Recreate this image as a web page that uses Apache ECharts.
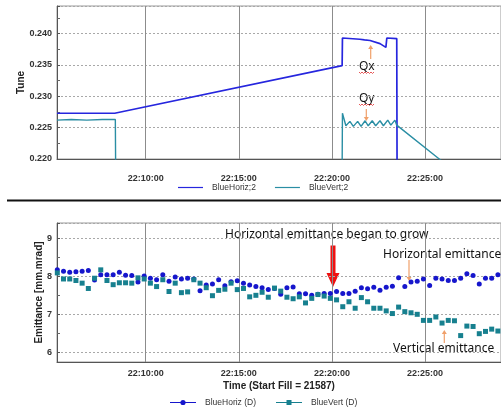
<!DOCTYPE html>
<html>
<head>
<meta charset="utf-8">
<title>Tune / Emittance</title>
<script src="https://cdn.jsdelivr.net/npm/echarts@6/dist/echarts.min.js"></script>
<style>
    html, body { margin: 0; padding: 0; background: #fff; }
    #demo { width: 501px; height: 407px; }
</style>
</head>
<body>
<div id="demo"></div>
<script>
/******************************************************* 数据区 ********************************************************/

// 上图 Tune：BlueHoriz;2
var horiz_tune_time  = ['22:05:14', '22:08:20', '22:20:33', '22:20:34', '22:21:30', '22:21:45', '22:22:03', '22:22:35', '22:22:54', '22:22:57', '22:23:29', '22:23:30'];
var horiz_tune_value = [0.2273, 0.2273, 0.2349, 0.2393, 0.2391, 0.2390, 0.2389, 0.2384, 0.2378, 0.2393, 0.2392, 0.2190];

// 上图 Tune：BlueVert;2
var vert_tune_time  = ['22:05:14', '22:06:00', '22:06:50', '22:07:40', '22:08:22', '22:08:23', '22:20:33',
                       '22:20:34', '22:20:45', '22:20:58', '22:21:09', '22:21:23', '22:21:34', '22:21:47', '22:21:57',
                       '22:22:10', '22:22:21', '22:22:35', '22:22:46', '22:23:00', '22:23:10', '22:23:23', '22:23:29',
                       '22:25:46', '22:25:56'];
var vert_tune_value = [0.2262, 0.2263, 0.2262, 0.2263, 0.2263, 0.2190, 0.2190,
                       0.2273, 0.2253, 0.2260, 0.2252, 0.2260, 0.2252, 0.2261, 0.2253,
                       0.2261, 0.2253, 0.2261, 0.2253, 0.2262, 0.2254, 0.2262, 0.2254,
                       0.2200, 0.2196];

// 下图 Emittance：采样时间
var emit_time = [
    '22:05:15', '22:05:35', '22:05:55', '22:06:15', '22:06:35', '22:06:55', '22:07:15', '22:07:35', '22:07:55',
    '22:08:15', '22:08:35', '22:08:55', '22:09:15', '22:09:35', '22:09:55', '22:10:15', '22:10:35', '22:10:55',
    '22:11:15', '22:11:35', '22:11:55', '22:12:15', '22:12:35', '22:12:55', '22:13:15', '22:13:35', '22:13:55',
    '22:14:15', '22:14:35', '22:14:55', '22:15:15', '22:15:35', '22:15:55', '22:16:15', '22:16:35', '22:16:55',
    '22:17:15', '22:17:35', '22:17:55', '22:18:15', '22:18:35', '22:18:55', '22:19:15', '22:19:35', '22:19:55',
    '22:20:15', '22:20:35', '22:20:55', '22:21:15', '22:21:35', '22:21:55', '22:22:15', '22:22:35', '22:22:55',
    '22:23:15', '22:23:35', '22:23:55', '22:24:15', '22:24:35', '22:24:55', '22:25:15', '22:25:35', '22:25:55',
    '22:26:15', '22:26:35', '22:26:55', '22:27:15', '22:27:35', '22:27:55', '22:28:15', '22:28:35', '22:28:55'
];
// BlueHoriz (D)
var emit_horiz = [
    8.17, 8.13, 8.11, 8.12, 8.13, 8.15, 7.90, 8.04, 8.04,
    8.04, 8.11, 8.03, 8.02, 7.85, 8.01, 7.95, 7.91, 8.04,
    7.87, 7.98, 7.93, 7.95, 7.93, 7.62, 7.77, 7.80, 7.91,
    7.75, 7.86, 7.88, 7.82, 7.77, 7.73, 7.70, 7.65, 7.68,
    7.53, 7.70, 7.72, 7.54, 7.54, 7.50, 7.53, 7.55, 7.55,
    7.60, 7.55, 7.55, 7.61, 7.70, 7.67, 7.71, 7.63, 7.71,
    7.74, 7.96, 7.73, 7.85, 7.87, 7.93, 7.76, 7.95, 7.93,
    7.89, 7.89, 7.95, 8.07, 8.02, 7.80, 7.95, 7.95, 8.04
];
// BlueVert (D)
var emit_vert = [
    8.09, 7.93, 7.93, 7.89, 7.82, 7.68, 7.95, 8.17, 7.89,
    7.78, 7.83, 7.83, 7.82, 7.96, 7.93, 7.82, 7.73, 7.91,
    7.60, 7.82, 7.57, 7.59, 7.91, 7.82, 7.70, 7.49, 7.63,
    7.66, 7.82, 7.65, 7.68, 7.46, 7.50, 7.58, 7.45, 7.69,
    7.61, 7.45, 7.41, 7.46, 7.30, 7.42, 7.52, 7.48, 7.42,
    7.38, 7.20, 7.33, 7.16, 7.44, 7.33, 7.16, 7.16, 7.09,
    7.02, 7.19, 7.07, 7.04, 7.00, 6.84, 6.84, 6.93, 6.77,
    6.84, 6.83, 6.44, 6.69, 6.68, 6.49, 6.55, 6.61, 6.56
];

// 坐标轴范围
var time_range  = ['22:05:14', '22:29:05'];
var tune_range  = [0.220, 0.2444];
var emit_range  = [5.745, 9.403];

/**
 * 初始化参数
 */
var basedata = {
    dom_id: 'demo',
    echarts_main: null
};

/**
 * 应用初始化加载
 */
var init_application = function () {
    basedata.echarts_main = new TuneEmittanceChart(basedata.dom_id);
    basedata.echarts_main.render_echart();
    window.onresize = function () {
        basedata.echarts_main.myChart.resize();
    };
};

/******************************************************* 函数区 ********************************************************/

// 'HH:MM:SS' -> 秒
function to_sec(str) {
    var p = str.split(':');
    return (+p[0]) * 3600 + (+p[1]) * 60 + (+p[2]);
}

// 秒 -> 'HH:MM:SS'
function fmt_time(v) {
    var h = Math.floor(v / 3600), m = Math.floor((v % 3600) / 60), s = Math.round(v % 60);
    var pad = function (n) { return (n < 10 ? '0' : '') + n; };
    return pad(h) + ':' + pad(m) + ':' + pad(s);
}

function zip_pairs(times, values) {
    return times.map(function (t, i) { return [to_sec(t), values[i]]; });
}

// 细箭头（竖直）
function thin_arrow(x, y_from, y_to, color) {
    var dir = y_to > y_from ? 1 : -1;
    return {
        type: 'group',
        children: [
            { type: 'line', shape: { x1: x, y1: y_from, x2: x, y2: y_to - dir * 3 }, style: { stroke: color, lineWidth: 1.2 } },
            { type: 'polygon', shape: { points: [[x - 2.5, y_to - dir * 4], [x + 2.5, y_to - dir * 4], [x, y_to]] }, style: { fill: color } }
        ]
    };
}

// 红色波浪线（拼写提示）
function squiggle(x1, x2, y) {
    var pts = [], k = 0;
    for (var x = x1; x <= x2; x += 1.5, k++) pts.push([x, y + (k % 2 ? 1 : -0.5)]);
    return { type: 'polyline', shape: { points: pts }, style: { stroke: '#e03030', lineWidth: 0.8, fill: null } };
}

function label_text(x, y, text, size) {
    return {
        type: 'text', x: x, y: y,
        style: { text: text, fill: '#111', font: size + 'px "Noto Sans"', textAlign: 'left', textVerticalAlign: 'middle' }
    };
}

// 图例图标：线 + 圆点 / 线 + 方块
var ICON_LINE   = 'path://M0,2 H25 V3.2 H0 Z';
var ICON_CIRCLE = 'path://M0,2.1 H26 V3.1 H0 Z M15.6,2.6 A2.6,2.6 0 1,1 10.4,2.6 A2.6,2.6 0 1,1 15.6,2.6 Z';
var ICON_SQUARE = 'path://M0,2 H26 V3 H0 Z M10.5,0 H15.5 V5 H10.5 Z';

/******************************************************* 组件区域 ******************************************************/

function TuneEmittanceChart(dom_id) {
    this.dom_id = dom_id;
    this.myChart = null;
    this.option = {};
    this.load_first = true;
}
TuneEmittanceChart.prototype = {
    constructor: TuneEmittanceChart,

    build_option: function () {
        var axis_font = 'Liberation Sans';
        var x_min = to_sec(time_range[0]), x_max = to_sec(time_range[1]);

        var x_axis = function (idx, margin) {
            return {
                type: 'value', gridIndex: idx, min: x_min, max: x_max,
                minInterval: 300, maxInterval: 300,
                axisLine: { lineStyle: { color: '#555' } },
                axisTick: { show: false },
                axisLabel: {
                    formatter: fmt_time, showMinLabel: false, showMaxLabel: false, margin: margin,
                    fontSize: 9, fontWeight: 'bold', color: '#333', fontFamily: axis_font
                },
                splitLine: { show: true, lineStyle: { color: '#8c8c8c', width: 1 } }
            };
        };
        var y_common = {
            nameLocation: 'middle',
            nameMoveOverlap: false,
            nameTextStyle: { fontSize: 10, fontWeight: 'bold', color: '#222', fontFamily: axis_font },
            axisLine: { show: true, lineStyle: { color: '#555' } },
            axisTick: { show: true, inside: true, length: 3, lineStyle: { color: '#555' } },
            minorTick: { show: true, splitNumber: 2, length: 3, lineStyle: { color: '#666' } },
            splitLine: { show: true, lineStyle: { color: '#a8a8a8', type: [2, 2] } }
        };

        var x0 = x_axis(0, 15);
        var x1 = x_axis(1, 7);
        x1.name = 'Time (Start Fill = 21587)';
        x1.nameLocation = 'middle';
        x1.nameGap = 19;
        x1.nameTextStyle = { fontSize: 10, fontWeight: 'bold', color: '#222', fontFamily: axis_font };

        var y0 = Object.assign({}, y_common, {
            type: 'value', gridIndex: 0, min: tune_range[0], max: tune_range[1], interval: 0.005,
            name: 'Tune', nameGap: 31,
            axisLabel: {
                formatter: function (v) { return v.toFixed(3); }, showMaxLabel: false, margin: 5,
                fontSize: 9, fontWeight: 'bold', color: '#333', fontFamily: axis_font
            }
        });
        var y1 = Object.assign({}, y_common, {
            type: 'value', gridIndex: 1, min: emit_range[0], max: emit_range[1],
            minInterval: 1, maxInterval: 1,
            name: 'Emittance [mm.mrad]', nameGap: 13,
            axisLabel: {
                showMinLabel: false, showMaxLabel: false, margin: 5,
                fontSize: 9, fontWeight: 'bold', color: '#333', fontFamily: axis_font
            }
        });

        var legend_text = { fontSize: 8.5, color: '#333', fontFamily: axis_font, padding: [0, 0, 0, 4] };

        this.option = {
            animation: false,
            backgroundColor: '#fff',
            grid: [
                { left: 57, top: 6, width: 445, height: 153, show: true, borderColor: '#9a9a9a', borderWidth: 1 },
                { left: 57, top: 223, width: 445, height: 139, show: true, borderColor: '#9a9a9a', borderWidth: 1 }
            ],
            xAxis: [x0, x1],
            yAxis: [y0, y1],
            legend: [
                {
                    data: [
                        { name: 'BlueHoriz;2', icon: ICON_LINE },
                        { name: 'BlueVert;2', icon: ICON_LINE }
                    ],
                    left: 178, top: 183, padding: 0, itemWidth: 25, itemHeight: 1.2, itemGap: 19,
                    selectedMode: false, textStyle: legend_text
                },
                {
                    data: [
                        { name: 'BlueHoriz (D)', icon: ICON_CIRCLE },
                        { name: 'BlueVert (D)', icon: ICON_SQUARE }
                    ],
                    left: 170, top: 398, padding: 0, itemWidth: 26, itemHeight: 5.2, itemGap: 20,
                    selectedMode: false, textStyle: legend_text
                }
            ],
            series: [
                {
                    name: 'BlueHoriz;2', type: 'line', xAxisIndex: 0, yAxisIndex: 0,
                    data: zip_pairs(horiz_tune_time, horiz_tune_value),
                    symbol: 'none', clip: true,
                    lineStyle: { color: '#2626de', width: 1.7 }, itemStyle: { color: '#2626de' }
                },
                {
                    name: 'BlueVert;2', type: 'line', xAxisIndex: 0, yAxisIndex: 0,
                    data: zip_pairs(vert_tune_time, vert_tune_value),
                    symbol: 'none', clip: true,
                    lineStyle: { color: '#2a8ea4', width: 1.4 }, itemStyle: { color: '#2a8ea4' }
                },
                {
                    name: 'BlueHoriz (D)', type: 'line', xAxisIndex: 1, yAxisIndex: 1,
                    data: zip_pairs(emit_time, emit_horiz),
                    symbol: 'circle', symbolSize: 5, showSymbol: true,
                    lineStyle: { color: '#1616cc', width: 1, opacity: 0 },
                    itemStyle: { color: '#1616cc', borderWidth: 0 }
                },
                {
                    name: 'BlueVert (D)', type: 'line', xAxisIndex: 1, yAxisIndex: 1,
                    data: zip_pairs(emit_time, emit_vert),
                    symbol: 'rect', symbolSize: 5, showSymbol: true,
                    lineStyle: { color: '#17808f', width: 1, opacity: 0 },
                    itemStyle: { color: '#17808f', borderWidth: 0 }
                }
            ],
            graphic: [
                // 分隔线
                { type: 'line', shape: { x1: 7, y1: 200.5, x2: 501, y2: 200.5 }, style: { stroke: '#111', lineWidth: 2 } },
                // 上图标注
                label_text(359, 66.5, 'Qx', 12),
                squiggle(359, 375, 72.5),
                thin_arrow(370.7, 59, 45, '#f0a06a'),
                label_text(359, 98.5, 'Qy', 12),
                squiggle(359, 375, 104.5),
                thin_arrow(366.3, 109, 121, '#f0a06a'),
                // 下图标注
                label_text(225, 235, 'Horizontal emittance began to grow', 12),
                {
                    type: 'polygon',
                    shape: { points: [[330.5, 245.5], [335.5, 245.5], [335.5, 273], [339.5, 273], [333, 287], [326.5, 273], [330.5, 273]] },
                    style: { fill: '#ee1111' }
                },
                label_text(383, 255, 'Horizontal emittance', 12),
                thin_arrow(409, 260, 281, '#f0a06a'),
                label_text(393, 348.5, 'Vertical emittance', 12),
                thin_arrow(444.3, 343, 330, '#f0a06a')
            ]
        };
    },

    render_echart: function () {
        var _self = this;
        _self.build_option();
        if (_self.load_first) {
            _self.myChart = echarts.init(document.getElementById(_self.dom_id));
            _self.load_first = false;
        }
        _self.myChart.setOption(_self.option);
    }
};

init_application();
</script>
</body>
</html>
